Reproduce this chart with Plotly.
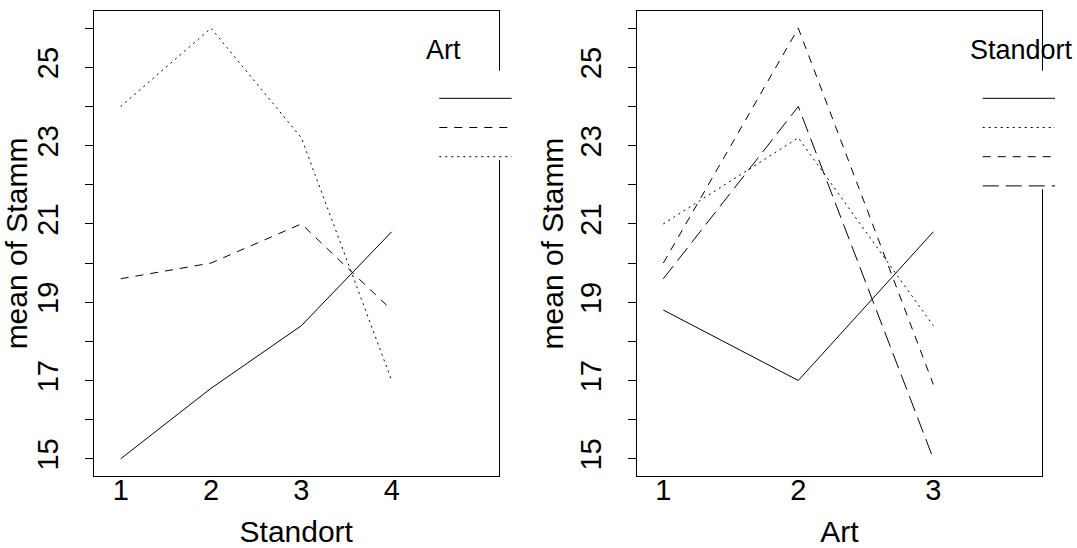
import plotly.graph_objects as go

# ---------------- data ----------------
standort_levels = [1, 2, 3, 4]
art_levels = [1, 2, 3]

# left panel: mean of Stamm vs Standort, one trace per Art
left_art_names = ["1", "2", "3"]
left_art1 = [15.0, 16.8, 18.4, 20.8]
left_art2 = [19.6, 20.0, 21.0, 18.8]
left_art3 = [24.0, 26.0, 23.2, 17.0]

# right panel: mean of Stamm vs Art, one trace per Standort
right_standort_names = ["1", "2", "3", "4"]
right_st1 = [18.8, 17.0, 20.8]
right_st2 = [20.0, 26.0, 16.9]
right_st3 = [21.0, 23.2, 18.4]
right_st4 = [19.6, 24.0, 15.0]

y_tick_values = list(range(15, 27))
y_tick_labels = [str(v) if v % 2 == 1 else "" for v in y_tick_values]

# ---------------- styling ----------------
W, H = 1077, 548
FONT = "Liberation Sans, Arial, Helvetica, sans-serif"
DASHES = ["solid", "8px,7px", "2px,4px", "16px,7px"]


def px(x):
    return x / W


def py(y):
    return 1 - y / H


fig = go.Figure()

left_series = [left_art1, left_art2, left_art3]
for name, vals, dash in zip(left_art_names, left_series, DASHES):
    fig.add_trace(go.Scatter(x=standort_levels, y=vals, mode="lines", name=name,
                             line=dict(color="black", width=1, dash=dash),
                             xaxis="x", yaxis="y", showlegend=False))

right_series = [right_st1, right_st2, right_st3, right_st4]
for name, vals, dash in zip(right_standort_names, right_series, DASHES):
    fig.add_trace(go.Scatter(x=art_levels, y=vals, mode="lines", name=name,
                             line=dict(color="black", width=1, dash=dash),
                             xaxis="x2", yaxis="y2", showlegend=False))

ydom = [py(476), py(11)]
common_x = dict(showline=True, mirror=True, linecolor="black", linewidth=1,
                showgrid=False, zeroline=False, ticks="", automargin=False,
                ticklabelstandoff=-12,
                tickfont=dict(size=29, color="black", family=FONT),
                title_font=dict(size=30, color="black", family=FONT),
                title_standoff=24)
common_y = dict(showline=True, mirror=True, linecolor="black", linewidth=1,
                showgrid=False, zeroline=False, ticks="outside", ticklen=8,
                tickcolor="black", tickwidth=1, automargin=False,
                tickvals=y_tick_values, ticktext=y_tick_labels, tickangle=-90,
                ticklabelstandoff=15,
                tickfont=dict(size=29, color="black", family=FONT),
                title_font=dict(size=30, color="black", family=FONT),
                range=[14.56, 26.44], domain=ydom, title_standoff=2)

fig.update_layout(
    width=W, height=H, autosize=False,
    margin=dict(l=0, r=0, t=0, b=0, autoexpand=False),
    paper_bgcolor="white", plot_bgcolor="white",
    font=dict(family=FONT, color="black"),
    hovermode=False,
    xaxis=dict(common_x, domain=[px(93.5), px(499)], range=[0.699, 5.188],
               tickvals=standort_levels, ticktext=[str(v) for v in standort_levels],
               title_text="Standort", anchor="y"),
    yaxis=dict(common_y, title_text="mean of Stamm", anchor="x"),
    xaxis2=dict(common_x, domain=[px(636.7), px(1042)], range=[0.803, 3.805],
                tickvals=art_levels, ticktext=[str(v) for v in art_levels],
                title_text="Art", anchor="y2"),
    yaxis2=dict(common_y, title_text="mean of Stamm", anchor="x2"),
)

# ---------------- legends (drawn like R's interaction.plot) ----------------
shapes = []
annotations = []


def add_legend(x_line0, x_line1, cover_x0, cover_x1, title, title_x, values_list):
    n = len(values_list)
    top = 70.7
    step = 29.2
    shapes.append(dict(type="rect", xref="paper", yref="paper",
                       x0=px(cover_x0), x1=px(cover_x1),
                       y0=py(top + step * (n + 0.06)), y1=py(top),
                       fillcolor="white", line=dict(width=0), layer="above"))
    # legend order: decreasing final value (as in interaction.plot)
    order = sorted(range(n), key=lambda i: -values_list[i][-1])
    for k, i in enumerate(order):
        yy = py(top + 27.6 + k * step)
        shapes.append(dict(type="line", xref="paper", yref="paper",
                           x0=px(x_line0), x1=px(x_line1), y0=yy, y1=yy,
                           line=dict(color="black", width=1, dash=DASHES[i]),
                           layer="above"))
    annotations.append(dict(text=title, xref="paper", yref="paper",
                            x=px(title_x), y=py(50), xanchor="center",
                            yanchor="middle", showarrow=False,
                            font=dict(size=27, color="black", family=FONT)))


add_legend(439.3, 511.7, 436, 530, "Art", 443.3, left_series)
add_legend(982.7, 1055, 979, 1077, "Standort", 1021.7, right_series)

fig.update_layout(shapes=shapes, annotations=annotations)

fig.write_html(
    "out.html",
    config={"displayModeBar": False, "staticPlot": True},
    post_script="document.body.style.margin='0px';document.body.style.overflow='hidden';",
)
